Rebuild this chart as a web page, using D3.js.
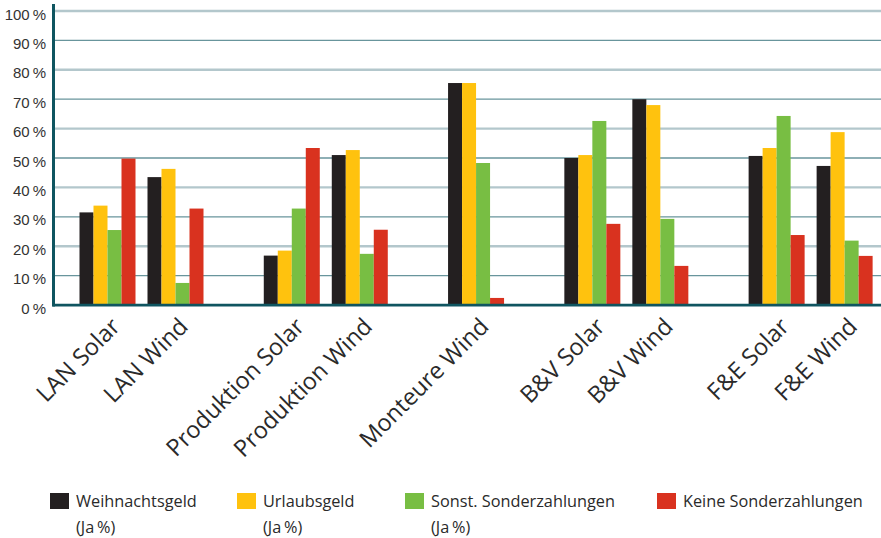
<!DOCTYPE html>
<html><head><meta charset="utf-8">
<script src="https://cdn.jsdelivr.net/npm/d3@7/dist/d3.min.js"></script>
<style>
html,body{margin:0;padding:0;background:#fff;}
svg{display:block;}
</style></head>
<body>
<svg id="chart" width="881" height="538"></svg>
<script>
const categories = ["LAN Solar","LAN Wind","Produktion Solar","Produktion Wind","Monteure Wind","B&V Solar","B&V Wind","F&E Solar","F&E Wind"];
const groups = ["LAN","LAN","Produktion","Produktion","Monteure","B&V","B&V","F&E","F&E"];
const seriesNames = ["Weihnachtsgeld","Urlaubsgeld","Sonst. Sonderzahlungen","Keine Sonderzahlungen"];
const legendSub = ["(Ja\u2009%)","(Ja\u2009%)","(Ja\u2009%)",""];
const weihnachtsgeld = [31.5, 43.5, 16.8, 51.0, 75.5, 50.0, 70.0, 50.7, 47.3];
const urlaubsgeld    = [33.8, 46.3, 18.5, 52.7, 75.5, 51.0, 68.0, 53.4, 58.8];
const sonstige       = [25.5,  7.5, 32.8, 17.4, 48.3, 62.6, 29.3, 64.3, 21.9];
const keine          = [49.8, 32.8, 53.4, 25.6,  2.4, 27.6, 13.3, 23.8, 16.7];
const yTicks = [0,10,20,30,40,50,60,70,80,90,100];

const seriesValues = [weihnachtsgeld, urlaubsgeld, sonstige, keine];
const colors = ["#231f20","#ffc20e","#78be43","#d9321f"];

const svg = d3.select("#chart");
const y = d3.scaleLinear().domain([0,100]).range([305, 11]);

// slot positions: one slot per category plus an extra gap between groups
const groupList = Array.from(new Set(groups));
const gapFactor = 0.71;
const slots = categories.map((c,i)=> i + gapFactor*groupList.indexOf(groups[i]));
const x = d3.scaleLinear().domain([0, 1]).range([79.5, 147.5]);
const xs = d3.scaleBand().domain(seriesNames).range([0,56]).padding(0);

// gridlines
svg.append("g").selectAll("line").data(yTicks.filter(t=>t>0)).join("line")
  .attr("x1",53).attr("x2",881)
  .attr("y1",d=>y(d)).attr("y2",d=>y(d))
  .attr("stroke",d=> (d/10)%2===0 ? "#b3c7cc" : "#68959c")
  .attr("stroke-width",d=> (d/10)%2===0 ? 2.4 : 1.3);

// bars
const catG = svg.append("g").selectAll("g").data(categories).join("g")
  .attr("transform",(d,i)=>`translate(${x(slots[i])},0)`);
catG.selectAll("rect").data((d,i)=>seriesNames.map((s,k)=>({s,k,v:seriesValues[k][i]}))).join("rect")
  .attr("x",d=>xs(d.s)).attr("width",xs.bandwidth())
  .attr("y",d=>y(d.v)).attr("height",d=>y(0)-y(d.v))
  .attr("fill",d=>colors[d.k]);

// axes lines
svg.append("line").attr("x1",53).attr("x2",881).attr("y1",306.5).attr("y2",306.5)
  .attr("stroke","#b3c7cc").attr("stroke-width",1.2);
svg.append("line").attr("x1",52).attr("x2",881).attr("y1",305).attr("y2",305)
  .attr("stroke","#0f5560").attr("stroke-width",2.5);
svg.append("line").attr("x1",53.5).attr("x2",53.5).attr("y1",4).attr("y2",306.5)
  .attr("stroke","#0f5560").attr("stroke-width",3);

// y tick labels
svg.append("g").selectAll("text").data(yTicks).join("text")
  .attr("x",46).attr("y",d=>y(d)+8.5)
  .attr("text-anchor","end")
  .attr("font-family","Liberation Sans, Arial, sans-serif")
  .attr("font-size",15).attr("fill","#333")
  .text(d=>d+"\u2009%");

// x labels
svg.append("g").selectAll("text").data(categories).join("text")
  .attr("transform",(d,i)=>`translate(${x(slots[i])+28+14},${328}) rotate(-45)`)
  .attr("text-anchor","end")
  .attr("font-family","Open Sans, sans-serif")
  .attr("font-size",23.5).attr("fill","#2a2a2a")
  .text(d=>d);

// legend
const legendX = [50, 237, 405, 657];
const lg = svg.append("g").selectAll("g").data(seriesNames).join("g")
  .attr("transform",(d,i)=>`translate(${legendX[i]},493)`);
lg.append("rect").attr("width",19).attr("height",16).attr("fill",(d,i)=>colors[i]);
lg.append("text").attr("x",26).attr("y",14)
  .attr("font-family","Open Sans, sans-serif").attr("font-size",16.3).attr("fill","#2a2a2a")
  .text(d=>d);
lg.append("text").attr("x",26).attr("y",40)
  .attr("font-family","Open Sans, sans-serif").attr("font-size",16.3).attr("fill","#2a2a2a")
  .text((d,i)=>legendSub[i]);
</script>
</body></html>
